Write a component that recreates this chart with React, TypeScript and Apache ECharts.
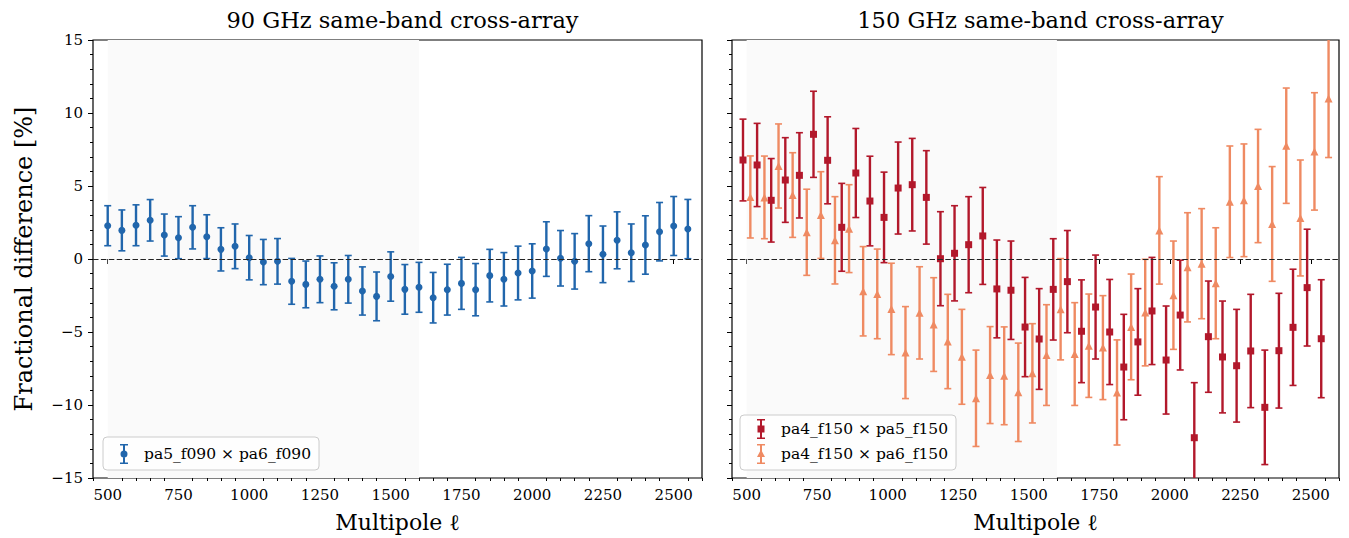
import React, { useEffect, useRef } from "react";
import * as echarts from "echarts";

// ---------- data ----------
const ELL_90 = [500, 550, 600, 650, 700, 750, 800, 850, 900, 950, 1000, 1050, 1100, 1150, 1200, 1250, 1300, 1350, 1400, 1450, 1500, 1550, 1600, 1650, 1700, 1750, 1800, 1850, 1900, 1950, 2000, 2050, 2100, 2150, 2200, 2250, 2300, 2350, 2400, 2450, 2500, 2550];
const DIFF_90 = [2.28, 1.96, 2.31, 2.65, 1.64, 1.46, 2.17, 1.53, 0.66, 0.87, 0.09, -0.21, -0.16, -1.53, -1.74, -1.39, -1.87, -1.39, -2.19, -2.56, -1.2, -2.08, -1.94, -2.65, -2.1, -1.67, -2.1, -1.14, -1.39, -0.96, -0.82, 0.68, 0.05, -0.16, 1.05, 0.32, 1.28, 0.43, 0.96, 1.87, 2.26, 2.05];
const ERR_90 = [1.37, 1.4, 1.4, 1.42, 1.44, 1.44, 1.48, 1.5, 1.48, 1.53, 1.52, 1.55, 1.56, 1.57, 1.6, 1.6, 1.61, 1.63, 1.65, 1.67, 1.69, 1.7, 1.71, 1.73, 1.74, 1.78, 1.79, 1.8, 1.83, 1.84, 1.86, 1.87, 1.9, 1.9, 1.92, 1.94, 1.95, 1.97, 2.0, 2.0, 2.02, 2.03];

const ELL_PA5 = [487, 537, 587, 637, 687, 737, 787, 837, 887, 937, 987, 1037, 1087, 1137, 1187, 1237, 1287, 1337, 1387, 1437, 1487, 1537, 1587, 1637, 1687, 1737, 1787, 1837, 1887, 1937, 1987, 2037, 2087, 2137, 2187, 2237, 2287, 2337, 2387, 2437, 2487, 2537];
const DIFF_PA5 = [6.78, 6.44, 4.02, 5.41, 5.73, 8.54, 6.76, 2.17, 5.89, 3.97, 2.85, 4.86, 5.09, 4.22, 0.02, 0.39, 0.98, 1.58, -2.05, -2.14, -4.66, -5.48, -2.08, -1.55, -4.95, -3.29, -5.0, -7.4, -5.68, -3.56, -6.92, -3.84, -12.24, -5.32, -6.71, -7.31, -6.3, -10.16, -6.28, -4.68, -1.96, -5.46];
const ERR_PA5 = [2.8, 2.85, 2.86, 2.9, 2.92, 2.95, 2.98, 3.01, 3.05, 3.07, 3.1, 3.15, 3.17, 3.2, 3.22, 3.26, 3.29, 3.32, 3.35, 3.37, 3.4, 3.45, 3.47, 3.5, 3.52, 3.56, 3.6, 3.61, 3.65, 3.67, 3.7, 3.76, 3.77, 3.81, 3.83, 3.86, 3.88, 3.92, 3.93, 3.98, 4.0, 4.04];

const ELL_PA6 = [513, 563, 613, 663, 713, 763, 813, 863, 913, 963, 1013, 1063, 1113, 1163, 1213, 1263, 1313, 1363, 1413, 1463, 1513, 1563, 1613, 1663, 1713, 1763, 1813, 1863, 1913, 1963, 2013, 2063, 2113, 2163, 2213, 2263, 2313, 2363, 2413, 2463, 2513, 2563];
const DIFF_PA6 = [4.25, 4.22, 6.37, 4.38, 1.83, 3.01, 1.28, 2.08, -2.21, -2.39, -3.42, -6.41, -3.69, -4.49, -5.65, -6.7, -9.54, -7.95, -8.0, -9.13, -7.83, -6.58, -3.44, -6.51, -5.94, -6.07, -9.14, -4.65, -3.67, 1.96, -2.48, -0.57, -0.32, -1.66, 3.92, 4.02, 5.0, 2.4, 7.76, 2.81, 7.37, 11.0];
const ERR_PA6 = [2.81, 2.83, 2.88, 2.9, 2.95, 2.97, 2.99, 3.01, 3.06, 3.07, 3.13, 3.15, 3.16, 3.21, 3.23, 3.25, 3.3, 3.32, 3.35, 3.37, 3.4, 3.45, 3.47, 3.52, 3.54, 3.56, 3.6, 3.62, 3.65, 3.68, 3.71, 3.74, 3.77, 3.8, 3.82, 3.86, 3.88, 3.93, 3.95, 3.97, 4.02, 4.05];

const X_TICKS = [500, 750, 1000, 1250, 1500, 1750, 2000, 2250, 2500];
const X_MINOR = [450, 550, 600, 650, 700, 800, 850, 900, 950, 1050, 1100, 1150, 1200, 1300, 1350, 1400, 1450, 1550, 1600, 1650, 1700, 1800, 1850, 1900, 1950, 2050, 2100, 2150, 2200, 2300, 2350, 2400, 2450, 2550, 2600];
const X_RANGE = [448, 2600];
const Y_RANGE = [-15, 15];
const Y_STEP = 5;
const SHADE_RANGE = [500, 1600];

const TITLES = ["90 GHz same-band cross-array", "150 GHz same-band cross-array"];
const LABEL_90 = "pa5_f090 × pa6_f090";
const LABEL_PA5 = "pa4_f150 × pa5_f150";
const LABEL_PA6 = "pa4_f150 × pa6_f150";

// ---------- styling ----------
const FONT = "DejaVu Serif";
const BLUE = "#2166ac";
const RED = "#b2182b";
const ORANGE = "#ef8a62";

const ICON_BASE = "M1,0 H9 V1.5 H1 Z M4,0 H6 V20 H4 Z M1,18.5 H9 V20 H1 Z ";
const ICON_CIRCLE = "path://" + ICON_BASE + "M1.5,10 A3.5,3.5 0 1,1 8.5,10 A3.5,3.5 0 1,1 1.5,10 Z";
const ICON_SQUARE = "path://" + ICON_BASE + "M1.5,6.5 H8.5 V13.5 H1.5 Z";
const ICON_TRIANGLE = "path://" + ICON_BASE + "M5,5.5 L9,13 L1,13 Z";

function zip(x: number[], y: number[], e?: number[]) {
  return x.map((v, i) => (e ? [v, y[i], e[i]] : [v, y[i]]));
}

function errorBars(name: string, data: number[][], color: string, xi: number, yi: number) {
  return {
    type: "custom",
    name,
    xAxisIndex: xi,
    yAxisIndex: yi,
    clip: true,
    silent: true,
    z: 3,
    data,
    encode: { x: 0, y: 1 },
    renderItem: (_p: any, api: any) => {
      const x = api.value(0);
      const y = api.value(1);
      const e = api.value(2);
      const t = api.coord([x, y + e]);
      const b = api.coord([x, y - e]);
      const hc = 3.5;
      return {
        type: "group",
        children: [
          { type: "line", shape: { x1: t[0], y1: t[1], x2: b[0], y2: b[1] }, style: { stroke: color, lineWidth: 2.4 } },
          { type: "line", shape: { x1: t[0] - hc, y1: t[1], x2: t[0] + hc, y2: t[1] }, style: { stroke: color, lineWidth: 1.6 } },
          { type: "line", shape: { x1: b[0] - hc, y1: b[1], x2: b[0] + hc, y2: b[1] }, style: { stroke: color, lineWidth: 1.6 } },
        ],
      };
    },
  };
}

function markers(name: string, data: number[][], color: string, symbol: string, size: number, xi: number, yi: number) {
  return {
    type: "scatter",
    name,
    xAxisIndex: xi,
    yAxisIndex: yi,
    data,
    symbol,
    symbolSize: size,
    itemStyle: { color, opacity: 1 },
    z: 4,
    silent: true,
    clip: true,
  };
}

function guides(xi: number, yi: number) {
  return {
    type: "line",
    name: "guide" + xi,
    xAxisIndex: xi,
    yAxisIndex: yi,
    data: [],
    silent: true,
    markArea: {
      silent: true,
      itemStyle: { color: "#fafafa" },
      data: [[{ xAxis: SHADE_RANGE[0] }, { xAxis: SHADE_RANGE[1] }]],
    },
    markLine: {
      silent: true,
      symbol: ["none", "none"],
      label: { show: false },
      lineStyle: { color: "#222", type: [5.5, 2.4], width: 1.2 },
      data: [{ yAxis: 0 }],
    },
  };
}

function xMain(gi: number) {
  return {
    type: "value",
    gridIndex: gi,
    position: "bottom",
    min: X_RANGE[0],
    max: X_RANGE[1],
    axisLine: { show: false },
    splitLine: { show: false },
    axisTick: { show: true, customValues: X_TICKS, length: 5, lineStyle: { color: "#000", width: 1 } },
    axisLabel: {
      customValues: X_TICKS,
      color: "#000",
      fontFamily: FONT,
      fontSize: 15,
      margin: 9,
      formatter: (v: number) => String(v),
    },
    name: "Multipole ℓ",
    nameLocation: "middle",
    nameGap: 33,
    nameTextStyle: { fontFamily: FONT, fontSize: 22, color: "#000" },
  };
}

function xMinor(gi: number) {
  return {
    type: "value",
    gridIndex: gi,
    position: "bottom",
    min: X_RANGE[0],
    max: X_RANGE[1],
    axisLine: { show: false },
    splitLine: { show: false },
    axisLabel: { show: false, customValues: X_MINOR },
    axisTick: { show: true, customValues: X_MINOR, length: 3, lineStyle: { color: "#000", width: 1 } },
  };
}

function yAxis(gi: number, labels: boolean) {
  return {
    type: "value",
    gridIndex: gi,
    min: Y_RANGE[0],
    max: Y_RANGE[1],
    interval: Y_STEP,
    axisLine: { show: false },
    splitLine: { show: false },
    axisTick: { show: true, length: 5, lineStyle: { color: "#000", width: 1 } },
    minorTick: { show: true, splitNumber: 5, length: 3, lineStyle: { color: "#000", width: 1 } },
    minorSplitLine: { show: false },
    axisLabel: {
      show: labels,
      color: "#000",
      fontFamily: FONT,
      fontSize: 15,
      margin: 10,
      formatter: (v: number) => (v < 0 ? "\u2212" + Math.abs(v) : String(v)),
    },
    name: labels ? "Fractional difference [%]" : "",
    nameLocation: "middle",
    nameGap: 57,
    nameTextStyle: { fontFamily: FONT, fontSize: 24, color: "#000" },
  };
}

const legendCommon = {
  orient: "vertical",
  itemWidth: 30,
  itemHeight: 20,
  itemGap: 5,
  selectedMode: false,
  backgroundColor: "rgba(255,255,255,0.8)",
  borderColor: "#cccccc",
  borderWidth: 1,
  borderRadius: 4,
  textStyle: { fontFamily: FONT, fontSize: 15.5, color: "#000" },
};

export default function App() {
  const ref = useRef<HTMLDivElement>(null);
  useEffect(() => {
    if (!ref.current) return;
    const chart = echarts.init(ref.current, undefined, { renderer: "svg" });
    const grid = { show: true, borderColor: "#000", borderWidth: 1.2, backgroundColor: "transparent", top: 40, height: 438 };
    const titleStyle = { fontFamily: FONT, fontSize: 22.5, fontWeight: "normal", color: "#000" };
    chart.setOption({
      animation: false,
      backgroundColor: "#fff",
      title: [
        { text: TITLES[0], left: 397.5, top: 3, textAlign: "center", textStyle: titleStyle },
        { text: TITLES[1], left: 1035.5, top: 3, textAlign: "center", textStyle: titleStyle },
      ],
      grid: [
        { ...grid, left: 93, width: 609 },
        { ...grid, left: 732, width: 607 },
      ],
      xAxis: [xMain(0), xMinor(0), xMain(1), xMinor(1)],
      yAxis: [yAxis(0, true), yAxis(1, false)],
      legend: [
        { ...legendCommon, left: 103, top: 437, padding: [7, 8, 6, 17], data: [{ name: LABEL_90, icon: ICON_CIRCLE }] },
        {
          ...legendCommon,
          left: 740,
          top: 415,
          padding: [4, 8, 6, 17],
          data: [
            { name: LABEL_PA5, icon: ICON_SQUARE },
            { name: LABEL_PA6, icon: ICON_TRIANGLE },
          ],
        },
      ],
      series: [
        guides(0, 0),
        guides(2, 1),
        errorBars("eb90", zip(ELL_90, DIFF_90, ERR_90), BLUE, 0, 0),
        markers(LABEL_90, zip(ELL_90, DIFF_90), BLUE, "circle", 7, 0, 0),
        errorBars("ebpa5", zip(ELL_PA5, DIFF_PA5, ERR_PA5), RED, 2, 1),
        markers(LABEL_PA5, zip(ELL_PA5, DIFF_PA5), RED, "rect", 7, 2, 1),
        errorBars("ebpa6", zip(ELL_PA6, DIFF_PA6, ERR_PA6), ORANGE, 2, 1),
        markers(LABEL_PA6, zip(ELL_PA6, DIFF_PA6), ORANGE, "triangle", 8, 2, 1),
      ],
    });
    return () => chart.dispose();
  }, []);
  return <div ref={ref} style={{ position: "absolute", left: 0, top: 0, width: 1349, height: 538 }} />;
}
